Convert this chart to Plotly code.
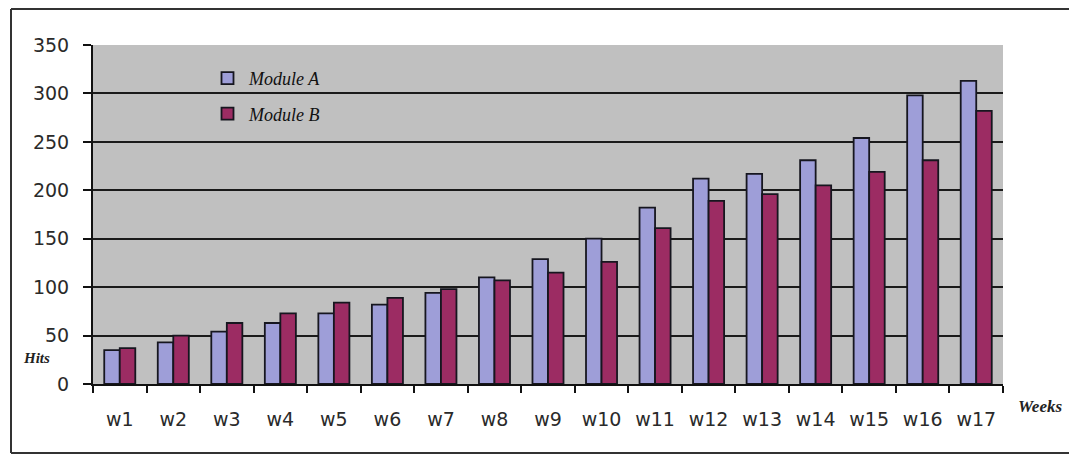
import plotly.graph_objects as go

# Weekly hits per module
weeks = [f"w{i}" for i in range(1, 18)]
module_a = [35, 43, 54, 63, 73, 82, 94, 110, 129, 150, 182, 212, 217, 231, 254, 298, 313]
module_b = [37, 50, 63, 73, 84, 89, 98, 107, 115, 126, 161, 189, 196, 205, 219, 231, 282]
y_ticks = [0, 50, 100, 150, 200, 250, 300, 350]

W, H = 1069, 454
L, R, T, B = 93, 66, 45, 70
pw, ph = W - L - R, H - T - B


def px_x(x):
    return (x - L) / pw


def px_y(y):
    return (H - B - y) / ph


edge = "#16161f"
fig = go.Figure()
fig.add_trace(go.Bar(x=weeks, y=module_a, name="Module A", legendgroup="a",
                     marker=dict(color="#9e9ed8", line=dict(color=edge, width=1.8))))
fig.add_trace(go.Bar(x=weeks, y=module_b, name="Module B", legendgroup="b",
                     marker=dict(color="#9c2c63", line=dict(color=edge, width=1.8))))

tick_font = dict(family="DejaVu Sans", size=19, color="#2a2a2a")

fig.update_layout(
    width=W, height=H,
    margin=dict(l=L, r=R, t=T, b=B),
    paper_bgcolor="white",
    plot_bgcolor="#c0c0c0",
    barmode="group",
    bargap=0.42,
    bargroupgap=0,
    showlegend=True,
    legend=dict(
        x=px_x(206), y=px_y(60), xanchor="left", yanchor="top",
        bgcolor="rgba(0,0,0,0)",
        font=dict(family="Liberation Serif", size=18, style="italic", color="#111111"),
        tracegroupgap=9,
        itemwidth=33,
    ),
    xaxis=dict(
        showgrid=False,
        showline=True, linecolor="#111111", linewidth=2,
        ticks="outside", ticklen=7, tickwidth=2, tickcolor="#111111",
        tickson="boundaries",
        tickfont=tick_font,
        ticklabelstandoff=17,
        fixedrange=True,
    ),
    yaxis=dict(
        range=[0, 350],
        tickvals=y_ticks,
        showgrid=True, gridcolor="#1a1a1a", gridwidth=1.5,
        showline=True, linecolor="#111111", linewidth=2,
        ticks="outside", ticklen=8, tickwidth=2, tickcolor="#111111",
        tickfont=tick_font,
        ticklabelstandoff=10,
        zeroline=False,
        fixedrange=True,
    ),
)

# Axis captions
fig.add_annotation(text="<b>Hits</b>", x=px_x(36), y=px_y(358), xref="paper", yref="paper",
                   xanchor="center", yanchor="middle", showarrow=False,
                   font=dict(family="Liberation Serif", size=15, style="italic", color="#222222"))
fig.add_annotation(text="<b>Weeks</b>", x=px_x(1040), y=px_y(406), xref="paper", yref="paper",
                   xanchor="center", yanchor="middle", showarrow=False,
                   font=dict(family="Liberation Serif", size=17, style="italic", color="#222222"))

# Outer frame of the chart area
frame = dict(color="#333333", width=2)
x0, x1 = px_x(11), px_x(1075)
y0, y1 = px_y(453), px_y(9)
fig.add_shape(type="line", xref="paper", yref="paper", x0=x0, x1=x1, y0=y1, y1=y1, line=frame)
fig.add_shape(type="line", xref="paper", yref="paper", x0=x0, x1=x1, y0=y0, y1=y0, line=frame)
fig.add_shape(type="line", xref="paper", yref="paper", x0=x0, x1=x0, y0=y0, y1=y1, line=frame)

fig.write_html("out.html")
